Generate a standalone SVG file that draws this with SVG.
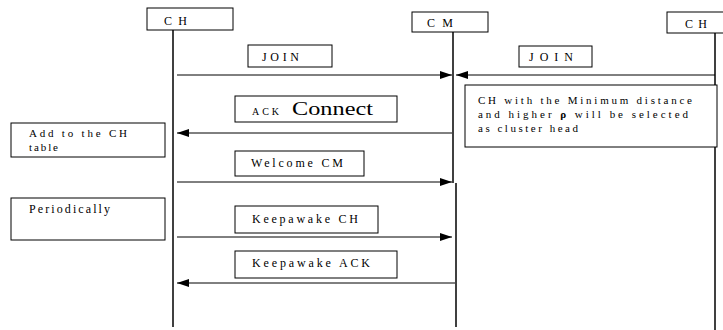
<svg xmlns="http://www.w3.org/2000/svg" width="723" height="330" viewBox="0 0 723 330">
<defs>
<marker id="ah" markerWidth="12" markerHeight="8" refX="12" refY="4" orient="auto" markerUnits="userSpaceOnUse">
<path d="M0,0 L12,4 L0,8 Z" fill="#000"/>
</marker>
<style>
.box{fill:#fff;stroke:#000;stroke-width:1}
.ll{stroke:#000;stroke-width:1.5;fill:none}
.msg{stroke:#000;stroke-width:1;fill:none;marker-end:url(#ah)}
text{font-family:"Liberation Serif","Times New Roman",serif;font-size:12px;fill:#000}
.ml{font-size:11px}
.sm{font-size:10px}
.big{font-size:18px}
.rho{font-weight:bold}
</style>
</defs>
<rect width="723" height="330" fill="#fff"/>
<g id="lifelines">
<line class="ll" x1="173" y1="30" x2="173" y2="327"/>
<line class="ll" x1="453" y1="32" x2="453" y2="183"/>
<line class="ll" x1="456" y1="183" x2="456" y2="327"/>
<line class="ll" x1="715" y1="33" x2="715" y2="330"/>
</g>
<g id="ch1"><rect class="box" x="147" y="8" width="86" height="22"/><text x="164" y="25" textLength="23" lengthAdjust="spacing">CH</text></g>
<g id="cm"><rect class="box" x="412" y="12" width="76" height="20"/><text x="427" y="27" textLength="26" lengthAdjust="spacing">CM</text></g>
<g id="ch2"><rect class="box" x="667" y="12" width="60" height="21"/><text x="685" y="28" textLength="22" lengthAdjust="spacing">CH</text></g>
<g id="connectors">
<line class="msg" x1="177" y1="75" x2="452" y2="75"/>
<line class="msg" x1="715" y1="75" x2="456" y2="75"/>
<line class="msg" x1="452" y1="133" x2="177" y2="133"/>
<line class="msg" x1="177" y1="182" x2="452" y2="182"/>
<line class="msg" x1="177" y1="237" x2="452" y2="237"/>
<line class="msg" x1="455" y1="283" x2="177" y2="283"/>
</g>
<g id="join1"><rect class="box" x="248" y="45" width="84" height="22"/><text x="262" y="61" textLength="37" lengthAdjust="spacing">JOIN</text></g>
<g id="join2"><rect class="box" x="519" y="46" width="73" height="21"/><text x="529" y="61" textLength="44" lengthAdjust="spacing">JOIN</text></g>
<g id="note"><rect class="box" x="465" y="85" width="252" height="62"/>
<text class="ml" x="478" y="104" textLength="214" lengthAdjust="spacing">CH with the Minimum distance</text>
<text class="ml" x="478" y="118" textLength="210" lengthAdjust="spacing">and higher <tspan class="rho">ρ</tspan> will be selected</text>
<text class="ml" x="478" y="132" textLength="100" lengthAdjust="spacing">as cluster head</text></g>
<g id="ack"><rect class="box" x="235" y="96" width="162" height="26"/><text class="sm" x="252" y="115" textLength="27" lengthAdjust="spacing">ACK</text><text class="big" x="292" y="115" textLength="81" lengthAdjust="spacingAndGlyphs">Connect</text></g>
<g id="addtable"><rect class="box" x="11" y="123" width="154" height="34"/><text class="ml" x="29" y="137" textLength="98" lengthAdjust="spacing">Add to the CH</text><text class="ml" x="29" y="151" textLength="29" lengthAdjust="spacing">table</text></g>
<g id="welcome"><rect class="box" x="235" y="151" width="129" height="25"/><text x="251" y="167" textLength="92" lengthAdjust="spacing">Welcome CM</text></g>
<g id="periodically"><rect class="box" x="11" y="198" width="154" height="42"/><text x="29" y="213" textLength="81" lengthAdjust="spacing">Periodically</text></g>
<g id="keepch"><rect class="box" x="235" y="206" width="143" height="27"/><text x="252" y="223" textLength="106" lengthAdjust="spacing">Keepawake CH</text></g>
<g id="keepack"><rect class="box" x="235" y="251" width="162" height="27"/><text x="252" y="267" textLength="118" lengthAdjust="spacing">Keepawake ACK</text></g>
</svg>
